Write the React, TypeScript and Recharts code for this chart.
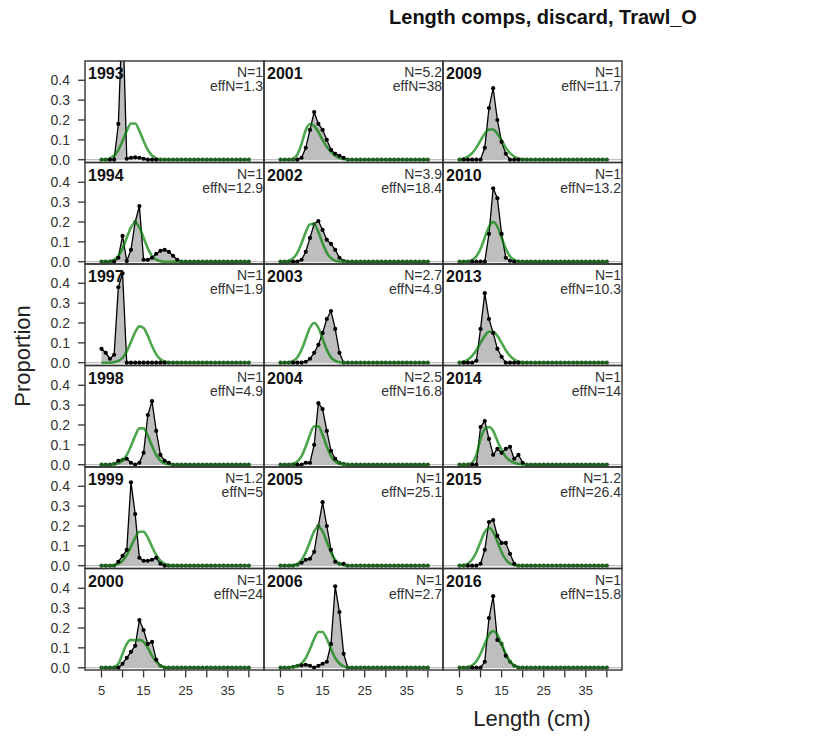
import React from 'react';
import { ComposedChart, Area, Line, XAxis, YAxis, CartesianGrid } from 'recharts';

// Length bins (cm)
const lengthBins = [5, 6, 7, 8, 9, 10, 11, 12, 13, 14, 15, 16, 17, 18, 19, 20, 21, 22, 23, 24, 25, 26, 27, 28, 29, 30, 31, 32, 33, 34, 35, 36, 37, 38, 39, 40];
const xTicks = [5, 10, 15, 20, 25, 30, 35, 40];
const xTickLabels = [5, 15, 25, 35];
const yTicks = [0, 0.1, 0.2, 0.3, 0.4];

// Observed proportions, bins 5..24 (bins above 24 are zero)
const obs1993 = [0, 0, 0, 0, 0.18, 0.76, 0.005, 0.01, 0.012, 0.01, 0.005, 0, 0, 0, 0, 0, 0, 0, 0, 0];
const obs1994 = [0, 0, 0, 0, 0.02, 0.13, 0.003, 0.06, 0.2, 0.28, 0.01, 0.01, 0.02, 0.04, 0.055, 0.06, 0.05, 0.03, 0.01, 0];
const obs1997 = [0.07, 0.05, 0.02, 0.04, 0.38, 0.45, 0, 0, 0, 0, 0, 0, 0, 0, 0, 0, 0, 0, 0, 0];
const obs1998 = [0, 0, 0, 0.005, 0.02, 0.025, 0.03, 0.01, 0, 0.01, 0.06, 0.25, 0.32, 0.17, 0.05, 0.02, 0.01, 0, 0, 0];
const obs1999 = [0, 0, 0, 0, 0.02, 0.05, 0.08, 0.42, 0.26, 0.04, 0.025, 0.025, 0.03, 0.04, 0.01, 0, 0, 0, 0, 0];
const obs2000 = [0, 0, 0, 0, 0, 0.02, 0.05, 0.08, 0.11, 0.24, 0.19, 0.12, 0.13, 0.04, 0.01, 0, 0, 0, 0, 0];
const obs2001 = [0, 0, 0, 0, 0, 0.01, 0.06, 0.15, 0.24, 0.18, 0.15, 0.1, 0.05, 0.03, 0.02, 0.01, 0, 0, 0, 0];
const obs2002 = [0, 0, 0, 0, 0, 0.01, 0.05, 0.12, 0.19, 0.205, 0.16, 0.11, 0.09, 0.06, 0.02, 0.005, 0, 0, 0, 0];
const obs2003 = [0, 0, 0, 0, 0, 0, 0.005, 0.02, 0.05, 0.09, 0.15, 0.22, 0.26, 0.17, 0.05, 0, 0, 0, 0, 0];
const obs2004 = [0, 0, 0, 0, 0, 0, 0.01, 0.01, 0.1, 0.31, 0.28, 0.17, 0.07, 0.03, 0.01, 0.005, 0, 0, 0, 0];
const obs2005 = [0, 0, 0, 0, 0.005, 0.015, 0.03, 0.035, 0.07, 0.2, 0.32, 0.2, 0.08, 0.02, 0.01, 0.01, 0, 0, 0, 0];
const obs2006 = [0, 0, 0, 0.005, 0.01, 0.012, 0.015, 0.01, 0, 0.01, 0.02, 0.03, 0.12, 0.41, 0.28, 0.07, 0, 0, 0, 0];
const obs2009 = [0, 0, 0, 0, 0, 0, 0.06, 0.26, 0.36, 0.2, 0.09, 0.03, 0, 0, 0, 0, 0, 0, 0, 0];
const obs2010 = [0, 0, 0, 0, 0, 0, 0, 0.14, 0.37, 0.32, 0.14, 0.02, 0.005, 0, 0, 0, 0, 0, 0, 0];
const obs2013 = [0, 0, 0, 0, 0.01, 0.17, 0.35, 0.22, 0.15, 0.07, 0.03, 0, 0, 0, 0, 0, 0, 0, 0, 0];
const obs2014 = [0, 0, 0, 0, 0, 0.19, 0.22, 0.13, 0.05, 0.08, 0.06, 0.08, 0.09, 0.03, 0.05, 0.01, 0, 0, 0, 0];
const obs2015 = [0, 0, 0, 0, 0, 0.01, 0.08, 0.22, 0.23, 0.15, 0.115, 0.115, 0.06, 0.01, 0, 0, 0, 0, 0, 0];
const obs2016 = [0, 0, 0, 0, 0, 0, 0.03, 0.25, 0.36, 0.14, 0.12, 0.06, 0.03, 0.01, 0, 0, 0, 0, 0, 0];

// Expected proportions, bins 5..24
const exp1993 = [0, 0.002, 0.007, 0.021, 0.049, 0.094, 0.145, 0.182, 0.182, 0.145, 0.094, 0.049, 0.021, 0.007, 0.002, 0, 0, 0, 0, 0];
const exp1994 = [0, 0, 0.003, 0.01, 0.029, 0.067, 0.121, 0.173, 0.195, 0.173, 0.121, 0.067, 0.029, 0.01, 0.003, 0, 0, 0, 0, 0];
const exp1997 = [0, 0, 0, 0.0025, 0.009, 0.025, 0.057, 0.105, 0.154, 0.183, 0.175, 0.135, 0.084, 0.042, 0.017, 0.006, 0.002, 0, 0, 0];
const exp1998 = [0, 0, 0, 0.002, 0.007, 0.021, 0.049, 0.094, 0.145, 0.183, 0.183, 0.145, 0.094, 0.049, 0.021, 0.007, 0.002, 0, 0, 0];
const exp1999 = [0, 0, 0, 0.003, 0.01, 0.025, 0.054, 0.096, 0.141, 0.171, 0.171, 0.141, 0.096, 0.054, 0.025, 0.01, 0.003, 0, 0, 0];
const exp2000 = [0, 0, 0, 0.003, 0.02, 0.07, 0.12, 0.14, 0.138, 0.14, 0.13, 0.1, 0.06, 0.03, 0.01, 0.003, 0, 0, 0, 0];
const exp2001 = [0, 0, 0, 0.005, 0.025, 0.08, 0.15, 0.18, 0.17, 0.14, 0.1, 0.065, 0.04, 0.02, 0.008, 0.003, 0, 0, 0, 0];
const exp2002 = [0, 0.001, 0.005, 0.018, 0.045, 0.093, 0.149, 0.189, 0.189, 0.149, 0.093, 0.045, 0.018, 0.005, 0.001, 0, 0, 0, 0, 0];
const exp2003 = [0, 0, 0.002, 0.009, 0.027, 0.065, 0.121, 0.176, 0.2, 0.176, 0.121, 0.065, 0.027, 0.009, 0.002, 0, 0, 0, 0, 0];
const exp2004 = [0, 0, 0.001, 0.005, 0.016, 0.043, 0.092, 0.151, 0.194, 0.194, 0.151, 0.092, 0.043, 0.016, 0.005, 0.001, 0, 0, 0, 0];
const exp2005 = [0, 0, 0, 0.003, 0.01, 0.029, 0.067, 0.121, 0.173, 0.195, 0.173, 0.121, 0.067, 0.029, 0.01, 0.003, 0, 0, 0, 0];
const exp2006 = [0, 0, 0, 0.002, 0.007, 0.021, 0.049, 0.094, 0.145, 0.18, 0.18, 0.145, 0.094, 0.049, 0.021, 0.007, 0.002, 0, 0, 0];
const exp2009 = [0.002, 0.006, 0.016, 0.033, 0.061, 0.097, 0.131, 0.152, 0.152, 0.131, 0.097, 0.061, 0.033, 0.016, 0.006, 0.002, 0, 0, 0, 0];
const exp2010 = [0, 0, 0.002, 0.009, 0.027, 0.065, 0.121, 0.176, 0.2, 0.176, 0.121, 0.065, 0.027, 0.009, 0.002, 0, 0, 0, 0, 0];
const exp2013 = [0.002, 0.006, 0.016, 0.034, 0.063, 0.1, 0.135, 0.156, 0.156, 0.135, 0.1, 0.063, 0.034, 0.016, 0.006, 0.002, 0, 0, 0, 0];
const exp2014 = [0, 0, 0.002, 0.01, 0.05, 0.13, 0.18, 0.19, 0.17, 0.12, 0.075, 0.04, 0.02, 0.01, 0.004, 0.001, 0, 0, 0, 0];
const exp2015 = [0, 0.003, 0.011, 0.031, 0.068, 0.121, 0.17, 0.19, 0.17, 0.121, 0.068, 0.031, 0.011, 0.003, 0, 0, 0, 0, 0, 0];
const exp2016 = [0, 0, 0.004, 0.012, 0.033, 0.07, 0.12, 0.166, 0.185, 0.166, 0.12, 0.07, 0.033, 0.012, 0.004, 0, 0, 0, 0, 0];

// Panel labels, column by column
const years = ['1993', '1994', '1997', '1998', '1999', '2000', '2001', '2002', '2003', '2004', '2005', '2006', '2009', '2010', '2013', '2014', '2015', '2016'];
const sampleN = ['1', '1', '1', '1', '1.2', '1', '5.2', '3.9', '2.7', '2.5', '1', '1', '1', '1', '1', '1', '1.2', '1'];
const effN = ['1.3', '12.9', '1.9', '4.9', '5', '24', '38', '18.4', '4.9', '16.8', '25.1', '2.7', '11.7', '13.2', '10.3', '14', '26.4', '15.8'];
const obsSeries = [obs1993, obs1994, obs1997, obs1998, obs1999, obs2000, obs2001, obs2002, obs2003, obs2004, obs2005, obs2006, obs2009, obs2010, obs2013, obs2014, obs2015, obs2016];
const expSeries = [exp1993, exp1994, exp1997, exp1998, exp1999, exp2000, exp2001, exp2002, exp2003, exp2004, exp2005, exp2006, exp2009, exp2010, exp2013, exp2014, exp2015, exp2016];

const FONT = '"Liberation Sans", Arial, Helvetica, sans-serif';
const GRID_LEFT = 85;
const GRID_TOP = 61;
const PANEL_W = 179;
const PANEL_H = 101.5;
const YAXIS_W = 60;
const XAXIS_H = 34;
const LABEL_PAD = 9;
const ROWS = 6;
const X_DOMAIN: [number, number] = [1.08, 43.6];
const Y_DOMAIN: [number, number] = [-0.014, 0.497];
const GREEN = 'rgb(0,128,0)';

function buildRows(obs: number[], exp: number[]) {
  return lengthBins.map((x, i) => ({ x, obs: obs[i] ?? 0, exp: exp[i] ?? 0 }));
}

// Observed point; where the expected line runs over it, it shows through dark green
function ObsDot(props: any) {
  const { cx, cy, payload, index } = props;
  if (cx == null || cy == null) return <g key={`d${index}`} />;
  const covered = Math.abs(payload.obs - payload.exp) < 0.006;
  return <circle key={`d${index}`} cx={cx} cy={cy} r={2.1} fill={covered ? '#1f5f1f' : '#000'} stroke="none" />;
}

function Panel({ idx }: { idx: number }) {
  const col = Math.floor(idx / ROWS);
  const row = idx % ROWS;
  const leftAxis = col === 0;
  const bottomAxis = row === ROWS - 1;
  const extraBottom = bottomAxis ? XAXIS_H : leftAxis ? LABEL_PAD : 0;
  const extraTop = leftAxis ? LABEL_PAD : 0;
  const w = PANEL_W + (leftAxis ? YAXIS_W : 0);
  const h = PANEL_H + extraBottom + extraTop;
  const left = GRID_LEFT + col * PANEL_W - (leftAxis ? YAXIS_W : 0);
  const top = GRID_TOP + row * PANEL_H - extraTop;
  const data = buildRows(obsSeries[idx], expSeries[idx]);
  return (
    <div style={{ position: 'absolute', left, top, width: w, height: h }}>
      <ComposedChart
        width={w}
        height={h}
        data={data}
        margin={{ top: extraTop, right: 0, bottom: bottomAxis ? 0 : extraBottom, left: 0 }}
      >
        <CartesianGrid vertical={false} horizontalValues={[0]} stroke="#bebebe" strokeWidth={1.2} />
        <XAxis
          dataKey="x"
          type="number"
          domain={X_DOMAIN}
          ticks={xTicks}
          interval={0}
          allowDataOverflow
          hide={!bottomAxis}
          height={XAXIS_H}
          axisLine={false}
          tickSize={7}
          tickMargin={8}
          tickLine={{ stroke: '#333', strokeWidth: 1.3 }}
          tick={{ fill: '#333', fontSize: 13, fontFamily: FONT }}
          tickFormatter={(v: number) => (xTickLabels.includes(v) ? String(v) : '')}
        />
        <YAxis
          type="number"
          domain={Y_DOMAIN}
          ticks={yTicks}
          interval={0}
          allowDataOverflow
          hide={!leftAxis}
          width={YAXIS_W}
          axisLine={false}
          tickSize={7}
          tickMargin={8}
          tickLine={{ stroke: '#333', strokeWidth: 1.3 }}
          tick={{ fill: '#333', fontSize: 14, fontFamily: FONT }}
          tickFormatter={(v: number) => v.toFixed(1)}
        />
        <Area
          type="linear"
          dataKey="obs"
          fill="#bebebe"
          fillOpacity={1}
          stroke="none"
          dot={false}
          activeDot={false}
          isAnimationActive={false}
        />
        <Line
          type="linear"
          dataKey="obs"
          stroke="#000"
          strokeWidth={1.3}
          dot={ObsDot}
          activeDot={false}
          isAnimationActive={false}
        />
        <Line
          type="monotone"
          dataKey="exp"
          stroke={GREEN}
          strokeOpacity={0.7}
          strokeWidth={2.6}
          dot={false}
          activeDot={false}
          isAnimationActive={false}
          {...({ zIndex: 450 } as any)}
        />
      </ComposedChart>
    </div>
  );
}

export default function App() {
  const frames = years.map((y, idx) => {
    const col = Math.floor(idx / ROWS);
    const row = idx % ROWS;
    const x0 = GRID_LEFT + col * PANEL_W;
    const y0 = GRID_TOP + row * PANEL_H;
    return (
      <g key={y}>
        <rect x={x0} y={y0} width={PANEL_W} height={PANEL_H} fill="none" stroke="#333" strokeWidth={1.4} />
        <text x={x0 + 3} y={y0 + 18} fontFamily={FONT} fontWeight="bold" fontSize={16} fill="#111">{y}</text>
        <text x={x0 + PANEL_W - 1} y={y0 + 16} fontFamily={FONT} fontSize={14} fill="#333" textAnchor="end">{`N=${sampleN[idx]}`}</text>
        <text x={x0 + PANEL_W - 1} y={y0 + 30} fontFamily={FONT} fontSize={14} fill="#333" textAnchor="end">{`effN=${effN[idx]}`}</text>
      </g>
    );
  });
  return (
    <div style={{ position: 'absolute', left: 0, top: 0, width: 829, height: 740, background: '#fff', fontFamily: FONT }}>
      {years.map((y, idx) => (
        <Panel key={y} idx={idx} />
      ))}
      <svg width={829} height={740} style={{ position: 'absolute', left: 0, top: 0, pointerEvents: 'none' }}>
        {frames}
        <text x={543} y={24} textAnchor="middle" fontFamily={FONT} fontWeight="bold" fontSize={20} fill="#111">
          Length comps, discard, Trawl_O
        </text>
        <text x={532} y={726} textAnchor="middle" fontFamily={FONT} fontSize={22} fill="#222">
          Length (cm)
        </text>
        <text x={30} y={356} textAnchor="middle" fontFamily={FONT} fontSize={22} fill="#222" transform="rotate(-90 30 356)">
          Proportion
        </text>
      </svg>
    </div>
  );
}
